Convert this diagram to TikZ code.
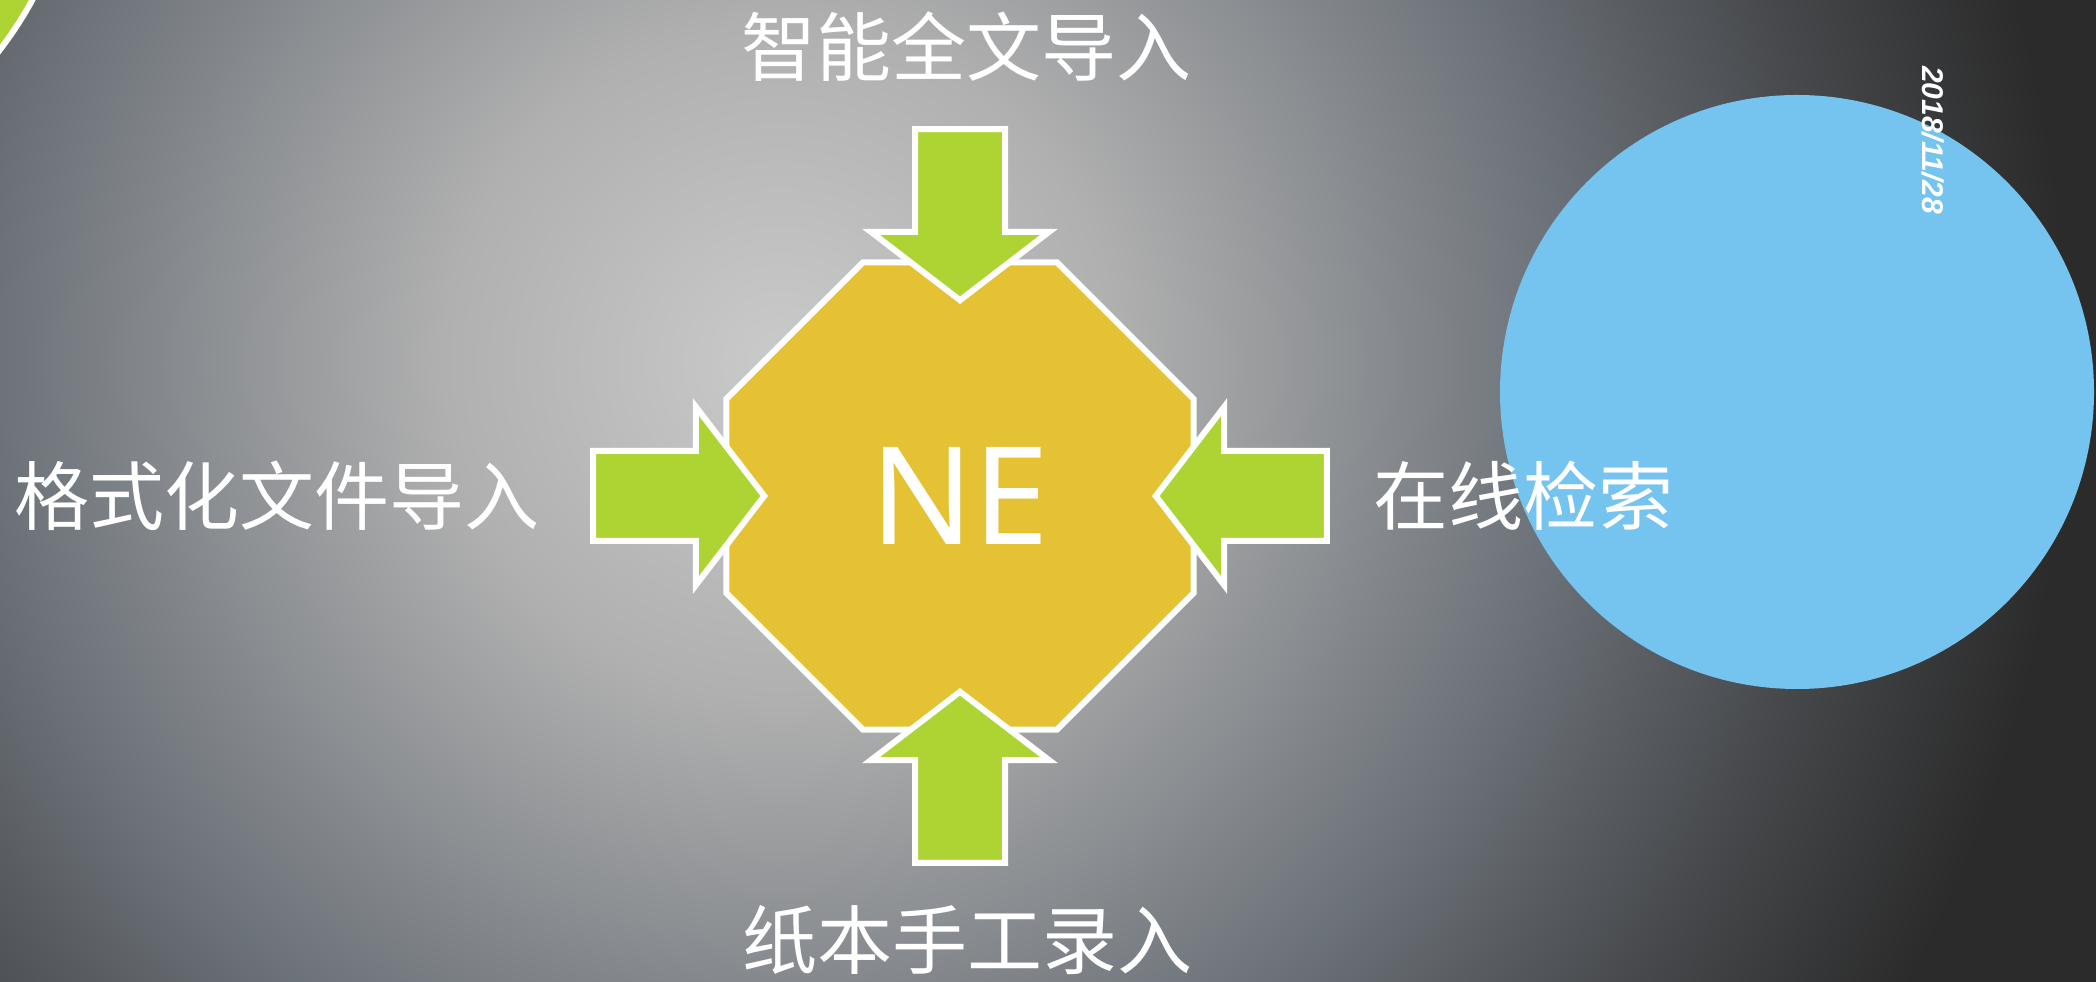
\documentclass[tikz,border=0pt]{standalone}
\usepackage{fontspec}
\setmainfont{Noto Sans}
\newfontfamily\cjk{Noto Sans CJK SC}
\newfontfamily\datefont{Liberation Sans}
\usetikzlibrary{shapes.geometric,shapes.arrows}

\definecolor{bgA}{HTML}{CACACA}
\definecolor{bgB}{HTML}{B0B0B0}
\definecolor{bgC}{HTML}{6C7279}
\definecolor{bgD}{HTML}{45474A}
\definecolor{bgE}{HTML}{2B2B2B}
\definecolor{coreyellow}{HTML}{E5C134}
\definecolor{arrowgreen}{HTML}{ADD432}
\definecolor{skyblue}{HTML}{75C3EF}

\pgfdeclareradialshading{bgglow}{\pgfpoint{0bp}{0bp}}{%
  color(0bp)=(bgA); color(6bp)=(bgB); color(14bp)=(bgC);
  color(19bp)=(bgD); color(23bp)=(bgE); color(50bp)=(bgE)}

\tikzset{
  core/.style   ={regular polygon,regular polygon sides=8,draw=white,line width=6pt,
                  fill=coreyellow,minimum size=506pt,inner sep=0pt,text=white,
                  font=\fontsize{136}{150}\selectfont},
  inarrow/.style={single arrow,draw=white,line width=6pt,fill=arrowgreen,
                  minimum width=172pt,minimum height=171pt,inner xsep=0pt,inner ysep=42pt,
                  single arrow head extend=44pt,single arrow tip angle=105},
  lbl/.style    ={text=white,inner sep=0pt,font=\cjk\fontsize{75}{90}\selectfont}
}

\begin{document}
\begin{tikzpicture}[x=1pt,y=1pt]
\useasboundingbox (0,0) rectangle (2096,982);
\clip (0,0) rectangle (2096,982);

% -------- background --------
\fill[bgE] (0,0) rectangle (2096,982);
\shade[shading=bgglow] (780,620) circle (1400);

% -------- decorations --------
\fill[skyblue] (1797,590) circle (297);
\filldraw[fill=arrowgreen,draw=white,line width=6pt] (-310,1169) circle (390);

% -------- core --------
\node[core] (ne) at (960,486) {NE};

% -------- four inputs --------
\node[inarrow, anchor=tip] (aleft) at ([xshift=-192pt]ne.center) {};
\node[inarrow, anchor=tip, rotate=-90] (atop) at ([yshift=192pt]ne.center) {};
\node[inarrow, anchor=tip, rotate=180] (aright) at ([xshift=192pt]ne.center) {};
\node[inarrow, anchor=tip, rotate=90] (abot) at ([yshift=-192pt]ne.center) {};

% -------- labels --------
\node[lbl] (ltop) at ([xshift=6pt,yshift=80pt]atop.tail) {智能全文导入};
\node[lbl] (lleft) at ([xshift=-313pt]aleft.tail) {格式化文件导入};
\node[lbl] (lright) at ([xshift=194pt]aright.tail) {在线检索};
\node[lbl] (lbot) at ([xshift=7pt,yshift=-74pt]abot.tail) {纸本手工录入};

% date
\node[text=white, rotate=-90, inner sep=0pt, font=\datefont\bfseries\itshape\fontsize{30}{36}\selectfont] (date) at (1933,842) {2018/11/28};

\end{tikzpicture}
\end{document}
